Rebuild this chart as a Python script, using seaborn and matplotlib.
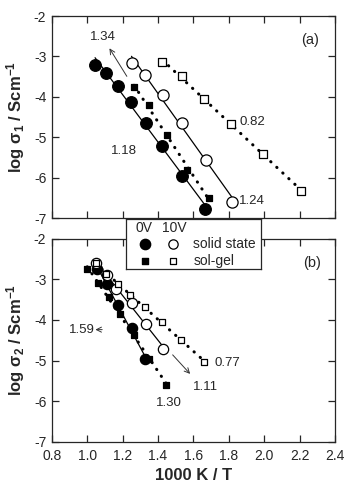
import numpy as np
import pandas as pd
import matplotlib
matplotlib.use("Agg")
import matplotlib.pyplot as plt
import seaborn as sns

# panel (a): log sigma_1
a_ss0_x = [1.044, 1.107, 1.173, 1.249, 1.332, 1.423, 1.537, 1.668]
a_ss0_y = [-3.20, -3.40, -3.73, -4.12, -4.64, -5.22, -5.95, -6.77]
a_ss10_x = [1.250, 1.327, 1.427, 1.537, 1.669, 1.819]
a_ss10_y = [-3.15, -3.46, -3.95, -4.65, -5.56, -6.59]
a_sg0_x = [1.264, 1.349, 1.448, 1.561, 1.688]
a_sg0_y = [-3.76, -4.19, -4.93, -5.80, -6.49]
a_sg10_x = [1.425, 1.533, 1.660, 1.810, 1.993, 2.207]
a_sg10_y = [-3.14, -3.49, -4.04, -4.66, -5.41, -6.32]

# panel (b): log sigma_2
b_ss0_x = [1.057, 1.111, 1.171, 1.251, 1.327]
b_ss0_y = [-2.75, -3.12, -3.63, -4.21, -4.96]
b_ss10_x = [1.048, 1.111, 1.165, 1.251, 1.334, 1.427]
b_ss10_y = [-2.61, -2.89, -3.25, -3.59, -4.10, -4.72]
b_sg0_x = [1.000, 1.061, 1.120, 1.185, 1.266, 1.351, 1.446]
b_sg0_y = [-2.75, -3.08, -3.44, -3.85, -4.37, -4.96, -5.60]
b_sg10_x = [1.048, 1.105, 1.171, 1.243, 1.327, 1.423, 1.531, 1.658]
b_sg10_y = [-2.59, -2.87, -3.12, -3.39, -3.69, -4.04, -4.49, -5.03]

x_ticks = [0.8, 1.0, 1.2, 1.4, 1.6, 1.8, 2.0, 2.2, 2.4]
y_ticks = [-7, -6, -5, -4, -3, -2]

sns.set_style("ticks")
plt.rcParams["font.family"] = ["Liberation Sans", "DejaVu Sans"]
plt.rcParams["mathtext.fontset"] = "custom"
plt.rcParams["mathtext.rm"] = "Liberation Sans"
plt.rcParams["mathtext.bf"] = "Liberation Sans:bold"
plt.rcParams["mathtext.it"] = "Liberation Sans:italic"

fig = plt.figure(figsize=(3.46, 4.86), dpi=100)
ax1 = fig.add_axes([0.150, 0.551, 0.818, 0.416])
ax2 = fig.add_axes([0.150, 0.091, 0.818, 0.418])

dot = (0, (0.1, 2.6))


def series(ax, x, y, marker, filled, size, dotted):
    df = pd.DataFrame({"x": x, "y": y})
    ls = dot if dotted else "-"
    lw = 2.2 if dotted else 0.9
    sns.regplot(data=df, x="x", y="y", ax=ax, ci=None, scatter=False,
                line_kws=dict(color="black", lw=lw, ls=ls,
                              dash_capstyle="round", zorder=2))
    sns.scatterplot(data=df, x="x", y="y", ax=ax, marker=marker, s=size,
                    color="black" if filled else "white",
                    edgecolor="black", linewidth=0.9, zorder=3)


series(ax1, a_ss0_x, a_ss0_y, "o", True, 70, False)
series(ax1, a_ss10_x, a_ss10_y, "o", False, 65, False)
series(ax1, a_sg0_x, a_sg0_y, "s", True, 22, True)
series(ax1, a_sg10_x, a_sg10_y, "s", False, 28, True)

series(ax2, b_ss0_x, b_ss0_y, "o", True, 55, False)
series(ax2, b_ss10_x, b_ss10_y, "o", False, 55, False)
series(ax2, b_sg0_x, b_sg0_y, "s", True, 20, True)
series(ax2, b_sg10_x, b_sg10_y, "s", False, 24, True)

for ax in (ax1, ax2):
    ax.set_xlim(0.8, 2.4)
    ax.set_ylim(-7, -2)
    ax.set_xticks(x_ticks)
    ax.set_yticks(y_ticks)
    ax.tick_params(direction="in", length=5, width=0.9, top=True,
                   right=True, labelsize=10, pad=4)
    ax.tick_params(axis="x", pad=5)
    for sp in ax.spines.values():
        sp.set_linewidth(0.9)
        sp.set_visible(True)
    ax.set_xlabel("")

ax1.set_xticklabels([])
ax1.set_yticklabels(["-7", "-6", "-5", "-4", "-3", "-2"])
ax2.set_xticklabels([f"{v:.1f}" for v in x_ticks])
ax2.set_yticklabels(["-7", "-6", "-5", "-4", "-3", "-2"])

ax1.set_ylabel(r"$\mathbf{log\ \sigma_1\ /\ Scm^{-1}}$", fontsize=12, labelpad=5)
ax2.set_ylabel(r"$\mathbf{log\ \sigma_2\ /\ Scm^{-1}}$", fontsize=12, labelpad=5)
ax2.set_xlabel("1000 K / T", fontsize=12, fontweight="bold", labelpad=4)

# annotations (a)
ax1.text(2.26, -2.59, "(a)", fontsize=10.5, ha="center", va="center")
ax1.text(1.087, -2.53, "1.34", fontsize=9.5, ha="center", va="center")
ax1.annotate("", xy=(1.117, -2.74), xytext=(1.232, -3.55),
             arrowprops=dict(arrowstyle="->", lw=0.7, color="#333333",
                             mutation_scale=9))
ax1.text(1.21, -5.35, "1.18", fontsize=9.5, ha="center", va="center")
ax1.text(1.86, -4.62, "0.82", fontsize=9.5, ha="left", va="center")
ax1.text(1.855, -6.58, "1.24", fontsize=9.5, ha="left", va="center")

# annotations (b)
ax2.text(2.27, -2.61, "(b)", fontsize=10.5, ha="center", va="center")
ax2.text(0.97, -4.25, "1.59", fontsize=9.5, ha="center", va="center")
ax2.annotate("", xy=(1.03, -4.24), xytext=(1.10, -4.24),
             arrowprops=dict(arrowstyle="->", lw=0.7, color="#333333",
                             mutation_scale=9))
ax2.text(1.72, -5.07, "0.77", fontsize=9.5, ha="left", va="center")
ax2.text(1.67, -5.65, "1.11", fontsize=9.5, ha="center", va="center")
ax2.annotate("", xy=(1.592, -5.38), xytext=(1.472, -4.81),
             arrowprops=dict(arrowstyle="->", lw=0.7, color="#333333",
                             mutation_scale=9))
ax2.text(1.46, -6.04, "1.30", fontsize=9.5, ha="center", va="center")

# legend box spanning both panels
lg = fig.add_axes([0.3656, 0.4465, 0.390, 0.103], zorder=5)
lg.set_xlim(0, 1)
lg.set_ylim(0, 1)
lg.set_xticks([])
lg.set_yticks([])
for sp in lg.spines.values():
    sp.set_linewidth(0.9)
lg.set_facecolor("white")
lg.text(0.13, 0.82, "0V", fontsize=10, ha="center", va="center")
lg.text(0.355, 0.82, "10V", fontsize=10, ha="center", va="center")
lg.scatter([0.137], [0.494], s=55, marker="o", color="black")
lg.scatter([0.347], [0.494], s=45, marker="o", facecolor="white", edgecolor="black", lw=0.9)
lg.scatter([0.137], [0.15], s=22, marker="s", color="black")
lg.scatter([0.347], [0.15], s=22, marker="s", facecolor="white", edgecolor="black", lw=0.9)
lg.text(0.495, 0.494, "solid state", fontsize=10, ha="left", va="center")
lg.text(0.495, 0.15, "sol-gel", fontsize=10, ha="left", va="center")

fig.savefig("out.png", dpi=100)
